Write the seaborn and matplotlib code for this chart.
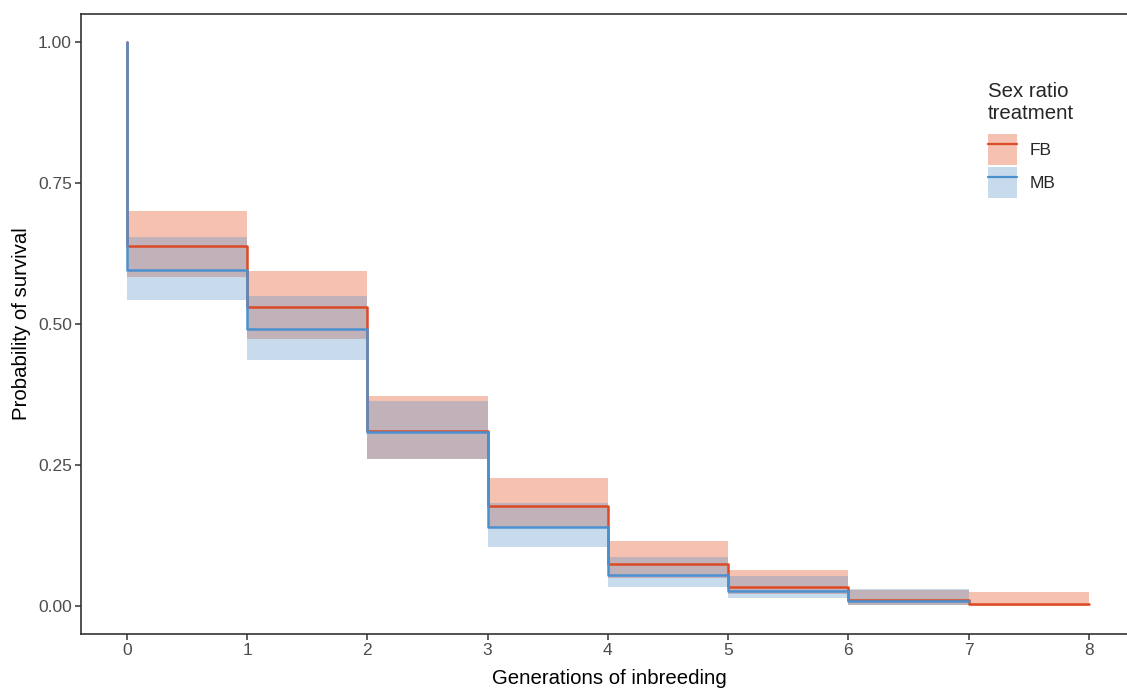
import numpy as np
import pandas as pd
import matplotlib
matplotlib.use("Agg")
import matplotlib.pyplot as plt
import seaborn as sns
from matplotlib.patches import Patch
from matplotlib.lines import Line2D

# ================= DATA =================
treatments = ["FB", "MB"]

# survival on each interval [k, k+1)
fb_surv = [0.639, 0.530, 0.311, 0.177, 0.075, 0.034, 0.0095, 0.003]
fb_lower = [0.583, 0.474, 0.261, 0.138, 0.050, 0.021, 0.001, 0.0]
fb_upper = [0.700, 0.594, 0.372, 0.227, 0.115, 0.064, 0.028, 0.025]

mb_surv = [0.596, 0.492, 0.309, 0.139, 0.055, 0.027, 0.009]
mb_lower = [0.543, 0.436, 0.261, 0.105, 0.034, 0.014, 0.001]
mb_upper = [0.654, 0.550, 0.364, 0.183, 0.087, 0.053, 0.030]

x_ticks = [0, 1, 2, 3, 4, 5, 6, 7, 8]
y_ticks = [0.00, 0.25, 0.50, 0.75, 1.00]

line_colors = {"FB": "#DC4A26", "MB": "#4A90CF"}
fill_colors = {"FB": "#E13700", "MB": "#4B8AC6"}

# ================= BUILD LONG TABLE =================
series = {
    "FB": (fb_surv, fb_lower, fb_upper),
    "MB": (mb_surv, mb_lower, mb_upper),
}

rows = []
for t in treatments:
    surv = series[t][0]
    n = len(surv)
    xs = [0] + list(range(n)) + [n]
    ys = [1.0] + surv + [surv[-1]]
    for x, y in zip(xs, ys):
        rows.append({"gen": x, "surv": y, "treatment": t})
line_df = pd.DataFrame(rows)

# ================= PLOT =================
sns.set_style("white")
plt.rcParams["font.family"] = ["Liberation Sans", "DejaVu Sans"]

fig = plt.figure(figsize=(11.27, 6.88), dpi=100)
ax = fig.add_axes([81 / 1127, 54 / 688, 1056 / 1127, 620 / 688])

# ribbons
for t in treatments:
    surv, lo, hi = series[t]
    n = len(surv)
    xr = list(range(n + 1))
    ax.fill_between(xr, lo + [lo[-1]], hi + [hi[-1]], step="post",
                    color=fill_colors[t], alpha=0.3, lw=0)

sns.lineplot(data=line_df, x="gen", y="surv", hue="treatment",
             palette=line_colors, drawstyle="steps-post", estimator=None,
             sort=False, lw=1.8, legend=False, ax=ax)

ax.set_xlim(-0.382, 8.4)
ax.set_ylim(-0.05, 1.05)
ax.set_xticks(x_ticks)
ax.set_yticks(y_ticks)
ax.set_yticklabels([f"{v:.2f}" for v in y_ticks])

for s in ax.spines.values():
    s.set_color("#333333")
    s.set_linewidth(1.2)
ax.tick_params(axis="both", direction="out", length=4, width=1.1,
               bottom=True, left=True,
               color="#333333", labelcolor="#4D4D4D", labelsize=12.5, pad=2.5)

ax.set_xlabel("Generations of inbreeding", fontsize=14.7, color="black", labelpad=8)
ax.set_ylabel("Probability of survival", fontsize=14.7, color="black", labelpad=5)

# ================= LEGEND =================
handles = [
    (Patch(facecolor=fill_colors[t], alpha=0.3, edgecolor="none"),
     Line2D([0], [0], color=line_colors[t], lw=1.6))
    for t in treatments
]
leg = fig.legend(handles, treatments, title="Sex ratio\ntreatment",
                 loc="upper left", bbox_to_anchor=(979 / 1127, 1 - 73 / 688),
                 frameon=False, fontsize=12.5, title_fontsize=14.7,
                 handlelength=1.7, handleheight=2.4, labelspacing=0.1,
                 handletextpad=0.7, borderpad=0, alignment="left")
leg._legend_box.sep = 8  # gap between title and keys

fig.savefig("out.png", dpi=100)
